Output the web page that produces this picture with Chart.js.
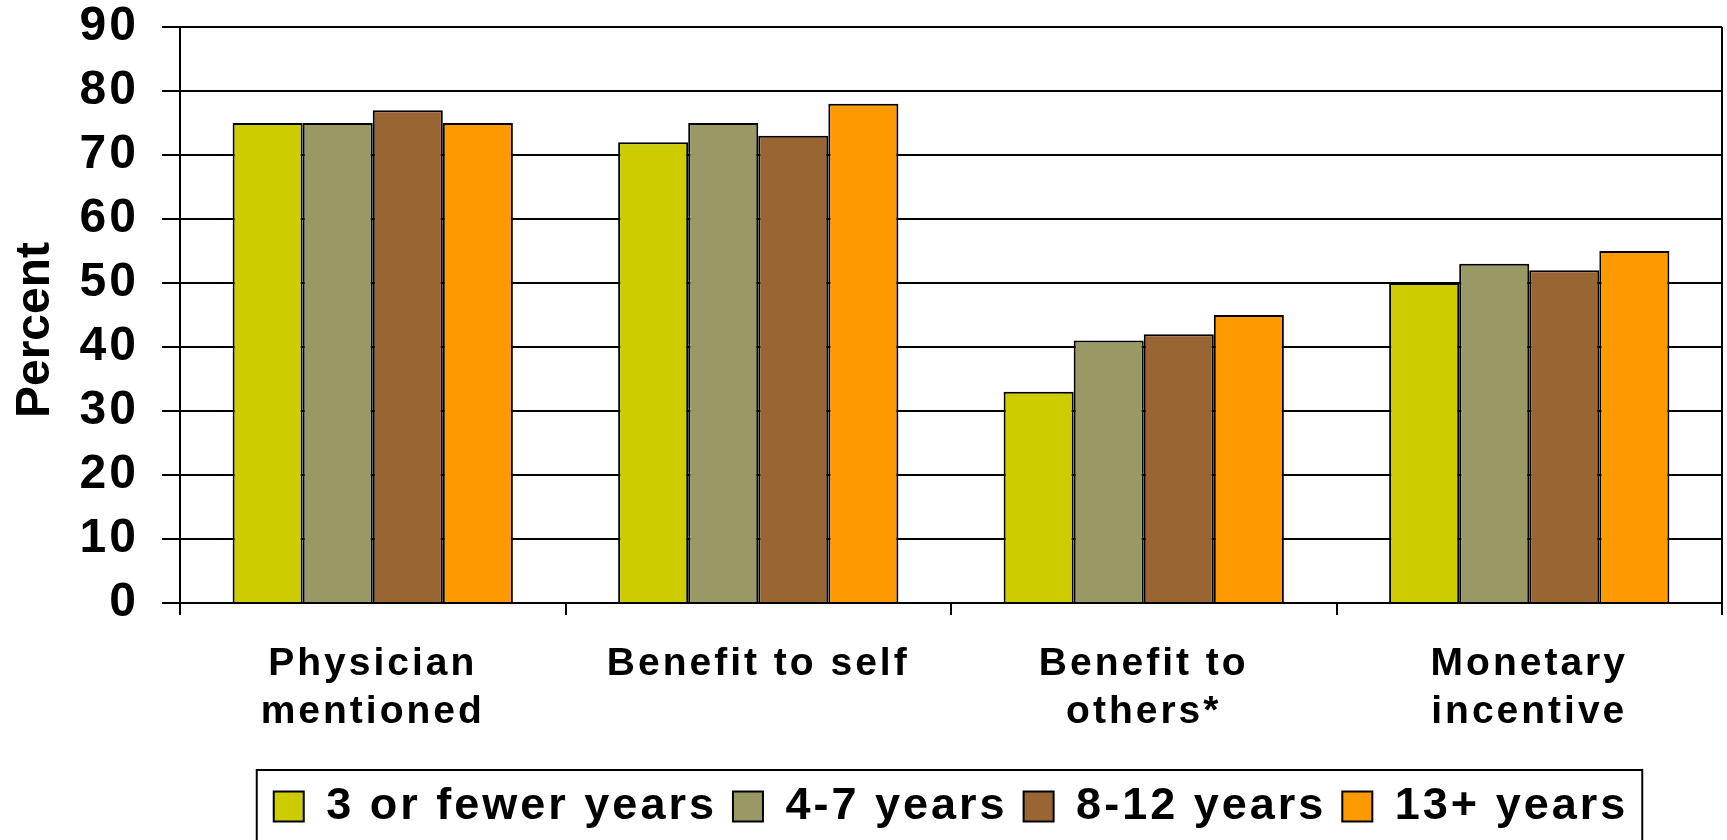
<!DOCTYPE html>
<html>
<head>
<meta charset="utf-8">
<title>Reasons for participating, by years</title>
<script src="https://cdn.jsdelivr.net/npm/chart.js@4.4.1/dist/chart.umd.min.js"></script>
<style>
  html, body { margin: 0; padding: 0; background: #fff; overflow: hidden; }
  canvas { display: block; }
</style>
</head>
<body>
<canvas id="chart" width="1727" height="840"></canvas>
<script>
// Categories along the x axis (multi-line labels as arrays)
const categories = [['Physician', 'mentioned'], 'Benefit to self', ['Benefit to', 'others*'], ['Monetary', 'incentive']];

// Series names and values (percent)
const seriesNames = ['3 or fewer years', '4-7 years', '8-12 years', '13+ years'];
const years3OrFewer = [75, 72, 33, 50];
const years4To7 = [75, 75, 41, 53];
const years8To12 = [77, 73, 42, 52];
const years13Plus = [75, 78, 45, 55];

// Y axis tick values
const yTickValues = [0, 10, 20, 30, 40, 50, 60, 70, 80, 90];

const seriesValues = [years3OrFewer, years4To7, years8To12, years13Plus];
const seriesColors = ['#CCCC00', '#999966', '#996633', '#FF9900'];

const FONT = "'Liberation Sans', Arial, Helvetica, sans-serif";
const SPACING = '3px';

Chart.defaults.font.family = FONT;
Chart.defaults.color = '#000';

// Wide-set lettering for the horizontal labels
const textSpacing = {
  id: 'textSpacing',
  beforeLayout(chart) { chart.ctx.letterSpacing = SPACING; },
  beforeDraw(chart) { chart.ctx.letterSpacing = SPACING; }
};

// Rotated "Percent" axis title
const yTitle = {
  id: 'yTitle',
  afterDraw(chart) {
    const { ctx, chartArea } = chart;
    ctx.save();
    ctx.letterSpacing = '0px';
    ctx.font = 'bold 48px ' + FONT;
    ctx.fillStyle = '#000';
    ctx.textAlign = 'center';
    ctx.textBaseline = 'alphabetic';
    ctx.translate(chart.scales.y.left + 49, (chartArea.top + chartArea.bottom) / 2 + 15);
    ctx.rotate(-Math.PI / 2);
    ctx.fillText('Percent', 0, 0);
    ctx.restore();
  }
};

// Frame around the legend row
const legendFrame = {
  id: 'legendFrame',
  afterDraw(chart) {
    const lg = chart.legend;
    const hb = lg && lg.legendHitBoxes;
    if (!hb || !hb.length) return;
    const first = hb[0], last = hb[hb.length - 1];
    const x0 = first.left - 17;
    const x1 = last.left + last.width + 14;
    const ctx = chart.ctx;
    ctx.save();
    ctx.strokeStyle = '#000';
    ctx.lineWidth = 2;
    ctx.strokeRect(x0, lg.top + 2, x1 - x0, chart.height);
    ctx.restore();
  }
};

new Chart(document.getElementById('chart'), {
  type: 'bar',
  data: {
    labels: categories,
    datasets: seriesValues.map((values, i) => ({
      label: seriesNames[i],
      data: values,
      backgroundColor: seriesColors[i],
      borderColor: '#000',
      borderWidth: 2,
      categoryPercentage: 0.727,
      barPercentage: 1.0
    }))
  },
  options: {
    responsive: false,
    animation: false,
    devicePixelRatio: 1,
    events: [],
    layout: { padding: { top: 27, right: 5, bottom: 1, left: 0 } },
    plugins: {
      tooltip: { enabled: false },
      title: { display: false },
      legend: {
        position: 'bottom',
        fullSize: false,
        labels: {
          boxWidth: 30,
          boxHeight: 30,
          padding: 16,
          color: '#000',
          font: { size: 45, weight: 'bold' }
        }
      }
    },
    scales: {
      x: {
        grid: {
          offset: true,
          drawOnChartArea: true,
          color: (c) => (c.type === 'scale' ? '#000' : 'rgba(0,0,0,0)'),
          lineWidth: 2,
          tickColor: '#000',
          tickWidth: 2,
          tickLength: 12
        },
        border: { display: true, color: '#000', width: 2 },
        ticks: {
          color: '#000',
          font: { size: 39, weight: 'bold', lineHeight: 1.23 },
          padding: 25,
          maxRotation: 0,
          autoSkip: false
        },
        afterFit(scale) { scale.height = 165; }
      },
      y: {
        min: 0,
        max: 90,
        afterBuildTicks(scale) { scale.ticks = yTickValues.map(v => ({ value: v })); },
        ticks: {
          color: '#000',
          font: { size: 48, weight: 'bold', lineHeight: 1 },
          padding: 23
        },
        grid: {
          color: '#000',
          lineWidth: 2,
          tickColor: '#000',
          tickWidth: 2,
          tickLength: 18
        },
        border: { display: true, color: '#000', width: 2 },
        afterFit(scale) {
          scale.width = 180;
          scale.paddingTop = 0;
          scale.paddingBottom = 0;
        }
      }
    }
  },
  plugins: [textSpacing, yTitle, legendFrame]
});
</script>
</body>
</html>
